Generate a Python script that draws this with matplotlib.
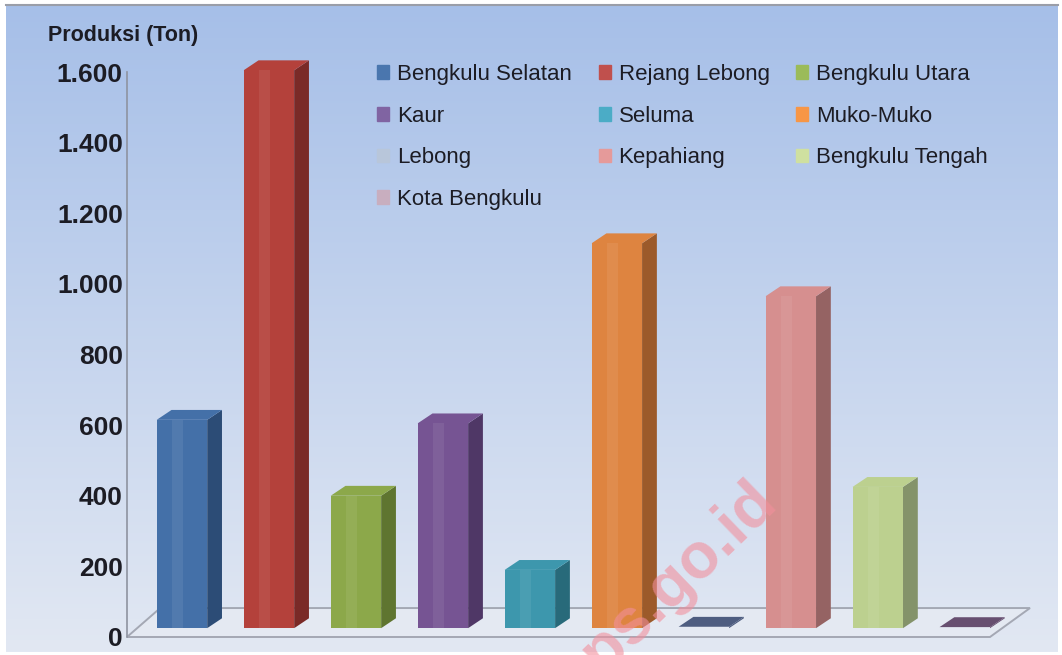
import numpy as np
import matplotlib.pyplot as plt
from matplotlib.patches import Polygon, Rectangle

plt.rcParams['font.family'] = ['Liberation Sans', 'DejaVu Sans']

# Data
kabupaten = ["Bengkulu Selatan", "Rejang Lebong", "Bengkulu Utara", "Kaur", "Seluma",
             "Muko-Muko", "Lebong", "Kepahiang", "Bengkulu Tengah", "Kota Bengkulu"]
produksi = [590, 1580, 375, 580, 165, 1090, 4, 940, 400, 3]
yticks = [0, 200, 400, 600, 800, 1000, 1200, 1400, 1600]
ytick_labels = ["0", "200", "400", "600", "800", "1.000", "1.200", "1.400", "1.600"]

# Colours (front face, side face, legend swatch)
warna_depan = ["#4470a8", "#b4413b", "#8ca84a", "#765493", "#3d97ad",
               "#de8440", "#6c7fa8", "#d68f8f", "#bcd08f", "#8d6f99"]
warna_sisi = ["#2c4c76", "#7a2a27", "#5f7530", "#4f3766", "#286a7a",
              "#9c5a2a", "#4e5d80", "#956363", "#84936a", "#674f70"]
warna_legenda = ["#4a76ae", "#c0504d", "#9bbb59", "#8064a2", "#4bacc6",
                 "#f79646", "#b8c6da", "#e59a9a", "#cfe0a0", "#c8aebf"]

fig = plt.figure(figsize=(10.62, 6.55), dpi=100)

# gradient background panel (pixel coordinates)
bg = fig.add_axes([0, 0, 1, 1])
bg.set_xlim(0, 1062)
bg.set_ylim(655, 0)
bg.axis("off")
grad = np.linspace(0, 1, 256)[:, None]
top = np.array([166, 191, 232]) / 255
bot = np.array([226, 232, 243]) / 255
img = top[None, None, :] * (1 - grad[:, :, None]) + bot[None, None, :] * grad[:, :, None]
bg.imshow(img, extent=[6, 1058, 652, 5], aspect="auto", zorder=0)
bg.plot([6, 1058], [5, 5], color="#9a9ea8", lw=1.5)

# main axes
ax = fig.add_axes([127 / 1062, (655 - 637) / 655, (1030 - 127) / 1062, (637 - 72) / 655])
ax.set_facecolor("none")
ax.set_xlim(-0.632, 9.75)
ax.set_ylim(0, 1600)

base = 25
lebar = 0.29
dx, dy = 0.17, 28

# floor
lantai = Polygon([(-0.632, 0), (9.29, 0), (9.75, 82), (-0.25, 82)], closed=True,
                 facecolor="#e4e9f2", edgecolor="#a4a8b4", lw=1.4, zorder=1, clip_on=False)
ax.add_patch(lantai)

x = np.arange(len(kabupaten))
for i, (xi, v) in enumerate(zip(x, produksi)):
    x0, x1 = xi - lebar, xi + lebar
    y0, y1 = base, base + v
    ax.add_patch(Polygon([(x1, y0), (x1 + dx, y0 + dy), (x1 + dx, y1 + dy), (x1, y1)],
                         facecolor=warna_sisi[i], edgecolor="none", zorder=3, clip_on=False))
    ax.add_patch(Polygon([(x0, y1), (x1, y1), (x1 + dx, y1 + dy), (x0 + dx, y1 + dy)],
                         facecolor=warna_sisi[i] if v < 10 else warna_depan[i],
                         edgecolor="none", zorder=3, clip_on=False))
    if v >= 10:
        b1 = ax.bar(xi, v, width=2 * lebar, bottom=base, color=warna_depan[i], zorder=4)
        b2 = ax.bar(xi - 0.05, v, width=0.12, bottom=base, color="white", alpha=0.07, zorder=5)
        for p in list(b1) + list(b2):
            p.set_clip_on(False)

for s in ["top", "right", "bottom"]:
    ax.spines[s].set_visible(False)
ax.spines["left"].set_color("#8e93a0")
ax.spines["left"].set_linewidth(1.2)
ax.set_xticks([])
ax.set_yticks(yticks, ytick_labels)
ax.tick_params(axis="y", length=0, pad=3, labelsize=19, labelcolor="#1c1c24")
for t in ax.get_yticklabels():
    t.set_fontweight("bold")

fig.text(48 / 1062, 1 - 36 / 655, "Produksi (Ton)", fontsize=15.5, fontweight="bold",
         color="#1c1c24", va="center")

# legend, ordered so it reads row by row
urutan = [0, 3, 6, 9, 1, 4, 7, 2, 5, 8]
handles = [Rectangle((0, 0), 1, 1, color=warna_legenda[k]) for k in urutan]
labels = [kabupaten[k] for k in urutan]
ax.legend(handles, labels, ncol=3, frameon=False, fontsize=16,
          loc="upper left", bbox_to_anchor=(357 / 1062, 1 - 44 / 655),
          bbox_transform=fig.transFigure, handlelength=0.55, handleheight=0.55,
          handletextpad=0.35, labelspacing=0.93, columnspacing=1.2,
          labelcolor="#1c1c24")

# watermark
fig.text(665 / 1062, 1 - 590 / 655, "bps.go.id", rotation=44, fontsize=46,
         fontweight="bold", color="#f28f9c", alpha=0.6, ha="center", va="center")

fig.savefig("out.png", dpi=100)
